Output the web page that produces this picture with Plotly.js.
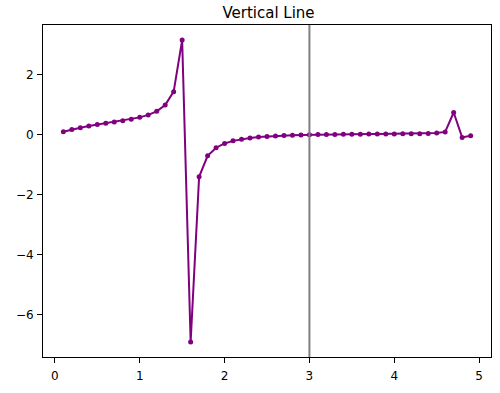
<!DOCTYPE html>
<html>
<head>
<meta charset="utf-8">
<script src="https://cdn.plot.ly/plotly-3.0.1.min.js"></script>
<style>html,body{margin:0;padding:0;background:#fff;}#chart{width:500px;height:393px;}</style>
</head>
<body>
<div id="chart"></div>
<script>
const xValues = [0.1,0.2,0.3,0.4,0.5,0.6,0.7,0.8,0.9,1.0,1.1,1.2,1.3,1.4,1.5,1.6,1.7,1.8,1.9,2.0,2.1,2.2,2.3,2.4,2.5,2.6,2.7,2.8,2.9,3.0,3.1,3.2,3.3,3.4,3.5,3.6,3.7,3.8,3.9,4.0,4.1,4.2,4.3,4.4,4.5,4.6,4.7,4.8,4.9];
const yValues = [0.0908,0.1660,0.2292,0.2834,0.3314,0.3755,0.4183,0.4627,0.5123,0.5729,0.6540,0.7747,0.9817,1.4298,3.1465,-6.9115,-1.4060,-0.7085,-0.4378,-0.2957,-0.2094,-0.1522,-0.1122,-0.0831,-0.0613,-0.0447,-0.0318,-0.0216,-0.0136,-0.0071,-0.0019,0.0024,0.0059,0.0088,0.0113,0.0135,0.0154,0.0173,0.0192,0.0212,0.0236,0.0267,0.0310,0.0380,0.0515,0.0891,0.7343,-0.0937,-0.0392];
const vlineX = [3];
const xTicks = [0,1,2,3,4,5];
const yTicks = [-6,-4,-2,0,2];
const titleText = "Vertical Line";

const trace = {
  x: xValues, y: yValues, type: 'scatter', mode: 'lines+markers',
  line: {color: '#800080', width: 2},
  marker: {color: '#800080', size: 5},
  hoverinfo: 'skip'
};
const axisCommon = {
  showline: true, mirror: true, linecolor: '#000', linewidth: 1,
  ticks: 'outside', ticklen: 5, tickcolor: '#000', tickwidth: 1,
  showgrid: false, zeroline: false,
  tickfont: {family: 'DejaVu Sans', size: 12, color: '#000'}
};
const layout = {
  width: 500, height: 393,
  margin: {l: 43, r: 9, t: 25, b: 36},
  paper_bgcolor: '#fff', plot_bgcolor: '#fff',
  showlegend: false,
  title: {text: titleText, font: {family: 'DejaVu Sans', size: 15, color: '#000'}, x: 0.537, xanchor: 'center', y: 0.968, yanchor: 'middle'},
  xaxis: Object.assign({}, axisCommon, {range: [-0.14, 5.14], tickvals: xTicks, ticklabelstandoff: 3}),
  yaxis: Object.assign({}, axisCommon, {range: [-7.41, 3.65], tickvals: yTicks, ticklabelstandoff: 1}),
  shapes: vlineX.map(v => ({type: 'line', xref: 'x', yref: 'paper', x0: v, x1: v, y0: 0, y1: 1, line: {color: '#808080', width: 2}}))
};
Plotly.newPlot('chart', [trace], layout, {displayModeBar: false, staticPlot: true});
</script>
</body>
</html>
